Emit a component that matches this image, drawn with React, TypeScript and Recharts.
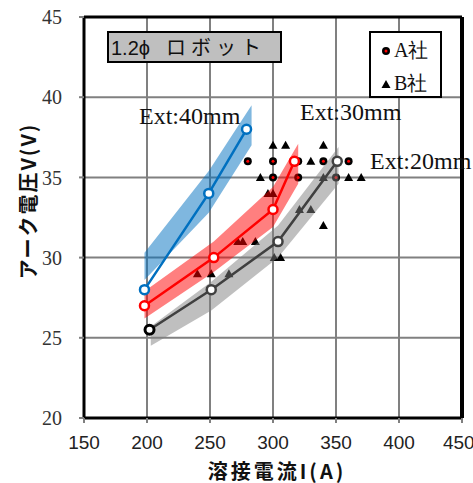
import {
  ComposedChart,
  XAxis,
  YAxis,
  CartesianGrid,
  Line,
  Area,
  Scatter,
  ReferenceLine,
} from "recharts";

// weld current (A) / arc voltage (V) per stick-out length
const ext40Current = [198, 249, 279];
const ext40Voltage = [28, 34, 38];
const ext30Current = [198, 253, 300, 317];
const ext30Voltage = [27, 30, 33, 36];
const ext20Current = [202, 251, 304, 351];
const ext20Voltage = [25.5, 28, 31, 36];

// shaded tolerance bands
const ext40BandCurrent = [198, 249, 283];
const ext40BandLow = [28.6, 32.8, 37.0];
const ext40BandHigh = [30.3, 35.4, 39.5];
const ext30BandCurrent = [198, 253, 300, 320];
const ext30BandLow = [26.2, 29.1, 31.9, 34.6];
const ext30BandHigh = [27.9, 31.0, 34.4, 37.1];
const ext20BandCurrent = [203, 251, 304, 352];
const ext20BandLow = [24.5, 26.7, 30.0, 34.6];
const ext20BandHigh = [25.7, 28.5, 32.0, 36.9];

// measured points
const companyACurrent = [280, 300, 320, 340, 360, 300, 320, 350];
const companyAVoltage = [36, 36, 36, 36, 36, 35, 35, 35];
const companyBCurrent = [300, 310, 340, 330, 290, 340, 360, 370, 296, 300, 321, 330, 340, 272, 276, 286, 301, 306, 240, 251, 265];
const companyBVoltage = [37, 37, 37, 36, 35, 35, 35, 35, 34, 34, 33, 33, 32, 31, 31, 31, 30, 30, 29, 29, 29];

const xTicks = [150, 200, 250, 300, 350, 400, 450];
const yTicks = [20, 25, 30, 35, 40, 45];

const toLine = (xs: number[], ys: number[]) => xs.map((x, i) => ({ x, y: ys[i] }));
const toBand = (xs: number[], lo: number[], hi: number[]) =>
  xs.map((x, i) => ({ x, range: [lo[i], hi[i]] }));

const ext40 = toLine(ext40Current, ext40Voltage);
const ext30 = toLine(ext30Current, ext30Voltage);
const ext20 = toLine(ext20Current, ext20Voltage);
const band40 = toBand(ext40BandCurrent, ext40BandLow, ext40BandHigh);
const band30 = toBand(ext30BandCurrent, ext30BandLow, ext30BandHigh);
const band20 = toBand(ext20BandCurrent, ext20BandLow, ext20BandHigh);
const companyA = toLine(companyACurrent, companyAVoltage);
const companyB = toLine(companyBCurrent, companyBVoltage);

const serif = "'Liberation Serif', 'DejaVu Serif', serif";
const sans = "'Liberation Sans', Arial, sans-serif";
const cjk = "'Noto Sans CJK JP', 'Noto Sans', sans-serif";

const CircleMark = (props: any) => (
  <g>
    <circle cx={props.cx} cy={props.cy} r={4} fill="#000" />
    <circle cx={props.cx} cy={props.cy} r={1.5} fill="#ff0000" />
  </g>
);

const TriangleMark = (props: any) => {
  const { cx, cy } = props;
  return <polygon points={`${cx},${cy - 4.5} ${cx + 4.5},${cy + 3.5} ${cx - 4.5},${cy + 3.5}`} fill="#000" />;
};

const dotStyle = (c: string) => ({ r: 4.5, stroke: c, strokeWidth: 2.5, fill: "#fff" });

// first point of the 20mm line is drawn in black in the original
const GrayDot = (props: any) => (
  <circle
    key={props.index}
    cx={props.cx}
    cy={props.cy}
    r={4.5}
    fill="#fff"
    stroke={props.index === 0 ? "#000" : "#404040"}
    strokeWidth={props.index === 0 ? 3 : 2.5}
  />
);

export default function App() {
  return (
    <div style={{ position: "absolute", left: 0, top: 0, width: 473, height: 483, background: "#fff", overflow: "hidden" }}>
      <ComposedChart width={473} height={483} margin={{ top: 17, right: 11, left: 24, bottom: 25 }}>
        <CartesianGrid stroke="#808080" strokeWidth={2} />
        <XAxis
          type="number"
          dataKey="x"
          domain={[150, 450]}
          ticks={xTicks}
          allowDataOverflow
          height={40}
          tickSize={5}
          tickMargin={13}
          axisLine={{ stroke: "#000", strokeWidth: 3 }}
          tickLine={{ stroke: "#808080", strokeWidth: 2 }}
          tick={{ fontFamily: sans, fontSize: 19, fill: "#222" }}
        />
        <YAxis
          type="number"
          dataKey="y"
          domain={[20, 45]}
          ticks={yTicks}
          allowDataOverflow
          width={60}
          tickSize={5}
          tickMargin={17}
          axisLine={{ stroke: "#000", strokeWidth: 3 }}
          tickLine={{ stroke: "#808080", strokeWidth: 2 }}
          tick={{ fontFamily: serif, fontSize: 20, fill: "#333" }}
        />
        <ReferenceLine x={150} stroke="#999" strokeWidth={1.5} strokeDasharray="3 3" />
        <ReferenceLine y={20} stroke="#999" strokeWidth={1.5} strokeDasharray="3 3" />
        <ReferenceLine y={45} stroke="#000" strokeWidth={3} />
        <ReferenceLine x={450} stroke="#000" strokeWidth={4} />

        {/* points sit under the shaded bands */}
        <Scatter data={companyA} shape={CircleMark} zIndex={50} isAnimationActive={false} />
        <Scatter data={companyB} shape={TriangleMark} zIndex={50} isAnimationActive={false} />

        <Area data={band40} dataKey="range" type="linear" stroke="none" fill="#0070C0" fillOpacity={0.5} isAnimationActive={false} />
        <Area data={band30} dataKey="range" type="linear" stroke="none" fill="#ff0000" fillOpacity={0.5} isAnimationActive={false} />
        <Area data={band20} dataKey="range" type="linear" stroke="none" fill="#808080" fillOpacity={0.5} isAnimationActive={false} />

        <Line data={ext40} dataKey="y" type="linear" stroke="#0070C0" strokeWidth={2.5} dot={dotStyle("#0070C0")} isAnimationActive={false} />
        <Line data={ext30} dataKey="y" type="linear" stroke="#ff0000" strokeWidth={2.5} dot={dotStyle("#ff0000")} isAnimationActive={false} />
        <Line data={ext20} dataKey="y" type="linear" stroke="#404040" strokeWidth={2.5} dot={GrayDot} isAnimationActive={false} />
      </ComposedChart>

      {/* title box */}
      <div
        style={{
          position: "absolute", left: 107, top: 31, width: 175, height: 32, boxSizing: "border-box",
          background: "#bfbfbf", border: "2px solid #000", fontFamily: cjk, fontSize: 20, lineHeight: "28px",
          paddingLeft: 2, whiteSpace: "nowrap", color: "#111",
        }}
      >
        <span style={{ fontFamily: sans, fontWeight: 300 }}>1.2ϕ</span>
        <span style={{ marginLeft: 16, letterSpacing: 5 }}>ロボット</span>
      </div>

      {/* legend */}
      <div
        style={{
          position: "absolute", left: 369, top: 31, width: 73, height: 67, boxSizing: "border-box",
          background: "#fff", border: "2px solid #000", fontFamily: serif, fontSize: 20, color: "#111",
        }}
      >
        <div style={{ position: "absolute", left: 10, top: 4, whiteSpace: "nowrap", display: "flex", alignItems: "center" }}>
          <svg width={10} height={10} style={{ marginRight: 3 }}>
            <circle cx={5} cy={5} r={4} fill="#000" />
            <circle cx={5} cy={5} r={1.5} fill="#ff0000" />
          </svg>
          <span>A社</span>
        </div>
        <div style={{ position: "absolute", left: 10, top: 37, whiteSpace: "nowrap", display: "flex", alignItems: "center" }}>
          <svg width={10} height={10} style={{ marginRight: 3 }}>
            <polygon points="5,1 9.5,9 0.5,9" fill="#000" />
          </svg>
          <span>B社</span>
        </div>
      </div>

      {/* extension labels */}
      <div style={{ position: "absolute", left: 139, top: 103, fontFamily: serif, fontSize: 24, color: "#111", whiteSpace: "nowrap" }}>Ext:40mm</div>
      <div style={{ position: "absolute", left: 300, top: 99, fontFamily: serif, fontSize: 24, color: "#111", whiteSpace: "nowrap" }}>Ext:30mm</div>
      <div style={{ position: "absolute", left: 370, top: 148, fontFamily: serif, fontSize: 24, color: "#111", whiteSpace: "nowrap" }}>Ext:20mm</div>

      {/* axis titles */}
      <div
        style={{
          position: "absolute", left: 27, top: 201, transform: "translate(-50%, -50%) rotate(-90deg)",
          fontFamily: cjk, fontWeight: 700, fontSize: 20, letterSpacing: 2, whiteSpace: "nowrap", color: "#111",
        }}
      >
        アーク電圧V(V)
      </div>
      <div
        style={{
          position: "absolute", left: 277, top: 471, transform: "translate(-50%, -50%)",
          fontFamily: cjk, fontWeight: 700, fontSize: 20, lineHeight: "22px", letterSpacing: 3, whiteSpace: "nowrap", color: "#111",
        }}
      >
        溶接電流I(A)
      </div>
    </div>
  );
}
